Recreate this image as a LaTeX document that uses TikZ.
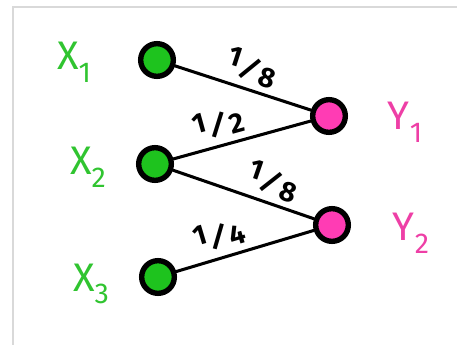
\documentclass[tikz,border=0pt]{standalone}
\usepackage{fontspec}
\setmainfont{Fira Sans}
\usetikzlibrary{positioning}
\definecolor{xgreen}{HTML}{1EC31E}
\definecolor{ypink}{HTML}{FF3CB4}
\definecolor{xtext}{HTML}{30C430}
\definecolor{ytext}{HTML}{EE3FA6}
\definecolor{framegray}{HTML}{D9D9D9}
\newcommand{\slfrac}[2]{\raisebox{0.25em}{#1}\rotatebox[origin=c]{-18}{/}\raisebox{-0.12em}{#2}}
\newcommand{\idx}[1]{\raisebox{-0.32em}{\scalebox{0.72}{#1}}}
\tikzset{
  vertex/.style={
    circle, draw=black, line width=4.6pt, minimum size=0.98cm,
    inner sep=0pt, fill=#1
  },
  link/.style={
    line width=2.6pt, line cap=round
  },
  prob/.style={
    font=\fontsize{24}{24}\selectfont\bfseries, sloped, above, inner sep=4pt
  },
  varname/.style={
    font=\fontsize{34}{34}\selectfont, text=#1
  }
}

\begin{document}
\begin{tikzpicture}[x=0.03cm, y=-0.03cm]

  \useasboundingbox (0,0) rectangle (457,345);
  \draw[framegray, line width=1.5pt] (13,345) -- (13,7) -- (457,7);

  % Inputs
  \node[vertex=xgreen] (x1) at (157,60) {};
  \node[vertex=xgreen] (x2) at (155,164) {};
  \node[vertex=xgreen] (x3) at (158,277) {};

  % Outputs
  \node[vertex=ypink] (y1) at (329,116) {};
  \node[vertex=ypink] (y2) at (332,225) {};

  % Transitions
  \draw[link] (x1) -- node[prob, pos=0.52] {\slfrac{1}{8}} (y1);
  \draw[link] (x2) -- node[prob, pos=0.37] {\slfrac{1}{2}} (y1);
  \draw[link] (x2) -- node[prob, pos=0.66] {\slfrac{1}{8}} (y2);
  \draw[link] (x3) -- node[prob, pos=0.36] {\slfrac{1}{4}} (y2);

  % Labels
  \node[varname=xtext] (lx1) at (74,62) {X\idx{1}};
  \node[varname=xtext] (lx2) at (88,167) {X\idx{2}};
  \node[varname=xtext] (lx3) at (91,284) {X\idx{3}};
  \node[varname=ytext] (ly1) at (405,122) {Y\idx{1}};
  \node[varname=ytext] (ly2) at (411,233) {Y\idx{2}};

\end{tikzpicture}
\end{document}
